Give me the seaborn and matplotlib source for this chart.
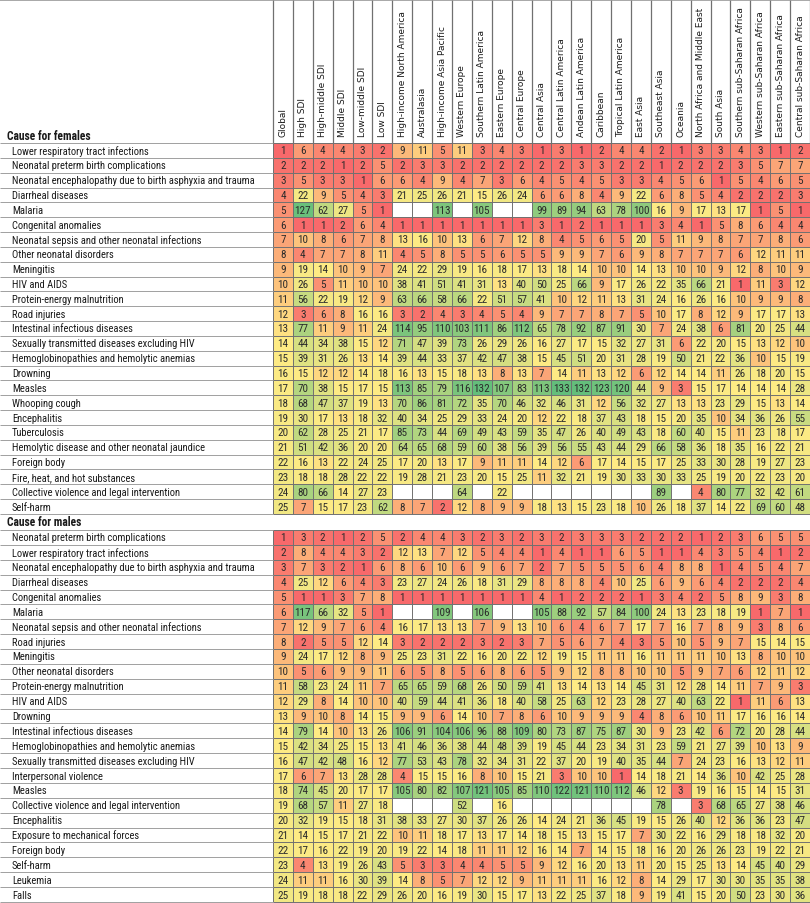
import os
import numpy as np
import pandas as pd
import matplotlib
matplotlib.use("Agg")
import matplotlib.pyplot as plt
import seaborn as sns
from matplotlib import font_manager as fm
from matplotlib.colors import LinearSegmentedColormap, TwoSlopeNorm
from matplotlib.transforms import blended_transform_factory
from matplotlib.lines import Line2D

# ==========================
# data
# ==========================
NA = np.nan

regions = [
    "Global", "High SDI", "High-middle SDI", "Middle SDI", "Low-middle SDI", "Low SDI",
    "High-income North America", "Australasia", "High-income Asia Pacific", "Western Europe",
    "Southern Latin America", "Eastern Europe", "Central Europe", "Central Asia",
    "Central Latin America", "Andean Latin America", "Caribbean", "Tropical Latin America",
    "East Asia", "Southeast Asia", "Oceania", "North Africa and Middle East", "South Asia",
    "Southern sub-Saharan Africa", "Western sub-Saharan Africa", "Eastern sub-Saharan Africa",
    "Central sub-Saharan Africa",
]

female_causes = [
    "Lower respiratory tract infections",
    "Neonatal preterm birth complications",
    "Neonatal encephalopathy due to birth asphyxia and trauma",
    "Diarrheal diseases",
    "Malaria",
    "Congenital anomalies",
    "Neonatal sepsis and other neonatal infections",
    "Other neonatal disorders",
    "Meningitis",
    "HIV and AIDS",
    "Protein-energy malnutrition",
    "Road injuries",
    "Intestinal infectious diseases",
    "Sexually transmitted diseases excluding HIV",
    "Hemoglobinopathies and hemolytic anemias",
    "Drowning",
    "Measles",
    "Whooping cough",
    "Encephalitis",
    "Tuberculosis",
    "Hemolytic disease and other neonatal jaundice",
    "Foreign body",
    "Fire, heat, and hot substances",
    "Collective violence and legal intervention",
    "Self-harm",
]

female_ranks = [
    [1, 6, 4, 4, 3, 2, 9, 11, 5, 11, 3, 4, 3, 1, 3, 1, 2, 4, 4, 2, 1, 3, 3, 4, 3, 1, 2],
    [2, 2, 2, 1, 2, 5, 2, 3, 3, 2, 2, 2, 2, 2, 2, 3, 3, 2, 2, 1, 2, 2, 2, 3, 5, 7, 7],
    [3, 5, 3, 3, 1, 6, 6, 4, 9, 4, 7, 3, 6, 4, 5, 4, 5, 3, 3, 4, 5, 6, 1, 5, 4, 6, 5],
    [4, 22, 9, 5, 4, 3, 21, 25, 26, 21, 15, 26, 24, 6, 6, 8, 4, 9, 22, 6, 8, 5, 4, 2, 2, 2, 3],
    [5, 127, 62, 27, 5, 1, NA, NA, 113, NA, 105, NA, NA, 99, 89, 94, 63, 78, 100, 16, 9, 17, 13, 17, 1, 5, 1],
    [6, 1, 1, 2, 6, 4, 1, 1, 1, 1, 1, 1, 1, 3, 1, 2, 1, 1, 1, 3, 4, 1, 5, 8, 6, 4, 4],
    [7, 10, 8, 6, 7, 8, 13, 16, 10, 13, 6, 7, 12, 8, 4, 5, 6, 5, 20, 5, 11, 9, 8, 7, 7, 8, 6],
    [8, 4, 7, 7, 8, 11, 4, 5, 8, 5, 5, 6, 5, 5, 9, 9, 7, 6, 9, 8, 7, 7, 7, 6, 12, 11, 11],
    [9, 19, 14, 10, 9, 7, 24, 22, 29, 19, 16, 18, 17, 13, 18, 14, 10, 10, 14, 13, 10, 10, 9, 12, 8, 10, 9],
    [10, 26, 5, 11, 10, 10, 38, 41, 51, 41, 31, 13, 40, 50, 25, 66, 9, 17, 26, 22, 35, 66, 21, 1, 11, 3, 12],
    [11, 56, 22, 19, 12, 9, 63, 66, 58, 66, 22, 51, 57, 41, 10, 12, 11, 13, 31, 24, 16, 26, 16, 10, 9, 9, 8],
    [12, 3, 6, 8, 16, 16, 3, 2, 4, 3, 4, 5, 4, 9, 7, 7, 8, 7, 5, 10, 17, 8, 12, 9, 17, 17, 13],
    [13, 77, 11, 9, 11, 24, 114, 95, 110, 103, 111, 86, 112, 65, 78, 92, 87, 91, 30, 7, 24, 38, 6, 81, 20, 25, 44],
    [14, 44, 34, 38, 15, 12, 71, 47, 39, 73, 26, 29, 26, 16, 27, 17, 15, 32, 27, 31, 6, 22, 20, 15, 13, 12, 10],
    [15, 39, 31, 26, 13, 14, 39, 44, 33, 37, 42, 47, 38, 15, 45, 51, 20, 31, 28, 19, 50, 21, 22, 36, 10, 15, 19],
    [16, 15, 12, 12, 14, 18, 16, 13, 15, 18, 13, 8, 13, 7, 14, 11, 13, 12, 6, 12, 14, 14, 11, 26, 18, 20, 15],
    [17, 70, 38, 15, 17, 15, 113, 85, 79, 116, 132, 107, 83, 113, 133, 132, 123, 120, 44, 9, 3, 15, 17, 14, 14, 14, 28],
    [18, 68, 47, 37, 19, 13, 70, 86, 81, 72, 35, 70, 46, 32, 46, 31, 12, 56, 32, 27, 13, 13, 23, 29, 15, 13, 14],
    [19, 30, 17, 13, 18, 32, 40, 34, 25, 29, 33, 24, 20, 12, 22, 18, 37, 43, 18, 15, 20, 35, 10, 34, 36, 26, 55],
    [20, 62, 28, 25, 21, 17, 85, 73, 44, 69, 49, 43, 59, 35, 47, 26, 40, 49, 43, 18, 60, 40, 15, 11, 23, 18, 17],
    [21, 51, 42, 36, 20, 20, 64, 65, 68, 59, 60, 38, 56, 39, 56, 55, 43, 44, 29, 66, 58, 36, 18, 35, 16, 22, 21],
    [22, 16, 13, 22, 24, 25, 17, 20, 13, 17, 9, 11, 11, 14, 12, 6, 17, 14, 15, 17, 25, 33, 30, 28, 19, 27, 23],
    [23, 18, 18, 28, 22, 22, 19, 28, 21, 23, 20, 15, 25, 11, 32, 21, 19, 30, 33, 30, 33, 25, 19, 20, 22, 23, 20],
    [24, 80, 66, 14, 27, 23, NA, NA, NA, 64, NA, 22, NA, NA, NA, NA, NA, NA, NA, 89, NA, 4, 80, 77, 32, 42, 61],
    [25, 7, 15, 17, 23, 62, 8, 7, 2, 12, 8, 9, 9, 18, 13, 15, 23, 18, 10, 26, 18, 37, 14, 22, 69, 60, 48],
]

male_causes = [
    "Neonatal preterm birth complications",
    "Lower respiratory tract infections",
    "Neonatal encephalopathy due to birth asphyxia and trauma",
    "Diarrheal diseases",
    "Congenital anomalies",
    "Malaria",
    "Neonatal sepsis and other neonatal infections",
    "Road injuries",
    "Meningitis",
    "Other neonatal disorders",
    "Protein-energy malnutrition",
    "HIV and AIDS",
    "Drowning",
    "Intestinal infectious diseases",
    "Hemoglobinopathies and hemolytic anemias",
    "Sexually transmitted diseases excluding HIV",
    "Interpersonal violence",
    "Measles",
    "Collective violence and legal intervention",
    "Encephalitis",
    "Exposure to mechanical forces",
    "Foreign body",
    "Self-harm",
    "Leukemia",
    "Falls",
]

male_ranks = [
    [1, 3, 2, 1, 2, 5, 2, 4, 4, 3, 2, 3, 2, 3, 2, 3, 3, 3, 2, 2, 2, 1, 2, 3, 6, 5, 5],
    [2, 8, 4, 4, 3, 2, 12, 13, 7, 12, 5, 4, 4, 1, 4, 1, 1, 6, 5, 1, 1, 4, 3, 5, 4, 1, 2],
    [3, 7, 3, 2, 1, 6, 8, 6, 10, 6, 9, 6, 7, 2, 7, 5, 5, 5, 6, 4, 8, 8, 1, 4, 5, 4, 7],
    [4, 25, 12, 6, 4, 3, 23, 27, 24, 26, 18, 31, 29, 8, 8, 8, 4, 10, 25, 6, 9, 6, 4, 2, 2, 2, 4],
    [5, 1, 1, 3, 7, 8, 1, 1, 1, 1, 1, 1, 1, 4, 1, 2, 2, 2, 1, 3, 4, 2, 5, 8, 9, 3, 8],
    [6, 117, 66, 32, 5, 1, NA, NA, 109, NA, 106, NA, NA, 105, 88, 92, 57, 84, 100, 24, 13, 23, 18, 19, 1, 7, 1],
    [7, 12, 9, 7, 6, 4, 16, 17, 13, 13, 7, 9, 13, 10, 6, 4, 6, 7, 17, 7, 16, 7, 8, 9, 3, 8, 6],
    [8, 2, 5, 5, 12, 14, 3, 2, 2, 2, 3, 2, 3, 7, 5, 6, 7, 4, 3, 5, 10, 5, 9, 7, 15, 14, 15],
    [9, 24, 17, 12, 8, 9, 25, 23, 31, 22, 16, 20, 22, 12, 19, 15, 11, 11, 16, 11, 11, 11, 10, 13, 8, 10, 10],
    [10, 5, 6, 9, 9, 11, 6, 5, 8, 5, 6, 8, 6, 5, 9, 12, 8, 8, 10, 10, 5, 9, 7, 6, 12, 11, 12],
    [11, 58, 23, 24, 11, 7, 65, 65, 59, 68, 26, 50, 59, 41, 13, 14, 13, 14, 45, 31, 12, 28, 14, 11, 7, 9, 3],
    [12, 29, 8, 14, 10, 10, 40, 59, 44, 41, 36, 18, 40, 58, 25, 63, 12, 23, 28, 27, 40, 63, 22, 1, 11, 6, 13],
    [13, 9, 10, 8, 14, 15, 9, 9, 6, 14, 10, 7, 8, 6, 10, 9, 9, 9, 4, 8, 6, 10, 11, 17, 16, 16, 14],
    [14, 79, 14, 10, 13, 26, 106, 91, 104, 106, 96, 88, 109, 80, 73, 87, 75, 87, 30, 9, 23, 42, 6, 72, 20, 28, 44],
    [15, 42, 34, 25, 15, 13, 41, 46, 36, 38, 44, 48, 39, 19, 45, 44, 23, 34, 31, 23, 59, 21, 27, 39, 10, 13, 9],
    [16, 47, 42, 48, 16, 12, 77, 53, 43, 78, 32, 34, 31, 22, 37, 20, 19, 40, 35, 44, 7, 24, 23, 16, 13, 12, 11],
    [17, 6, 7, 13, 28, 28, 4, 15, 15, 16, 8, 10, 15, 21, 3, 10, 10, 1, 14, 18, 21, 14, 36, 10, 42, 25, 28],
    [18, 74, 45, 20, 17, 17, 105, 80, 82, 107, 121, 105, 85, 110, 122, 121, 110, 112, 46, 12, 3, 19, 16, 15, 14, 15, 31],
    [19, 68, 57, 11, 27, 18, NA, NA, NA, 52, NA, 16, NA, NA, NA, NA, NA, NA, NA, 78, NA, 3, 68, 65, 27, 38, 46],
    [20, 32, 19, 15, 18, 31, 38, 33, 27, 30, 37, 26, 26, 14, 24, 21, 36, 45, 19, 15, 26, 40, 12, 36, 36, 23, 47],
    [21, 14, 15, 17, 21, 22, 10, 11, 18, 17, 13, 17, 14, 18, 15, 13, 15, 17, 7, 30, 22, 16, 29, 18, 18, 32, 20],
    [22, 17, 16, 22, 19, 20, 19, 22, 14, 18, 11, 11, 12, 16, 14, 7, 14, 15, 18, 16, 20, 26, 26, 23, 19, 22, 21],
    [23, 4, 13, 19, 26, 43, 5, 3, 3, 4, 4, 5, 5, 9, 12, 16, 20, 13, 11, 20, 15, 25, 13, 14, 45, 40, 29],
    [24, 11, 11, 16, 30, 39, 14, 8, 5, 7, 12, 12, 9, 11, 11, 11, 16, 12, 8, 14, 29, 17, 30, 30, 35, 35, 38],
    [25, 19, 18, 18, 22, 29, 26, 20, 16, 19, 30, 15, 17, 13, 22, 25, 37, 18, 9, 19, 41, 15, 20, 50, 23, 30, 36],
]

female_df = pd.DataFrame(female_ranks, index=female_causes, columns=regions)
male_df = pd.DataFrame(male_ranks, index=male_causes, columns=regions)

# ==========================
# fonts: pick the narrowest sans face that is around
# ==========================
plt.rcParams["font.family"] = ["DejaVu Sans"]

NARROW_STRETCH = ("condensed", "semi-condensed", "extra-condensed", "ultra-condensed", "narrow")
FAMILY_PREF = ["Liberation Sans Narrow", "Roboto Condensed", "Open Sans Condensed",
               "Noto Sans", "Open Sans", "DejaVu Sans"]


def weight_num(w):
    if isinstance(w, (int, float)):
        return w
    return {"normal": 400, "regular": 400, "book": 400, "medium": 500, "semibold": 600,
            "demibold": 600, "bold": 700, "heavy": 800, "black": 900, "light": 300}.get(str(w).lower(), 400)


def pick_font(bold=False):
    best = None
    for f in fm.fontManager.ttflist:
        base = os.path.basename(f.fname)
        narrow = (str(f.stretch).lower() in NARROW_STRETCH or "Narrow" in f.name
                  or "Condensed" in f.name or "Condensed" in base or "Narrow" in base)
        if not narrow or f.style != "normal":
            continue
        w = weight_num(f.weight)
        if bold and not (550 <= w <= 750):
            continue
        if not bold and w != 400:
            continue
        fam_rank = len(FAMILY_PREF)
        for i, fam in enumerate(FAMILY_PREF):
            if f.name.startswith(fam):
                fam_rank = i
                break
        key = (fam_rank, abs(w - (650 if bold else 400)))
        if best is None or key < best[0]:
            best = (key, f.fname)
    if best is not None:
        return fm.FontProperties(fname=best[1])
    for f in fm.fontManager.ttflist:
        base = os.path.basename(f.fname)
        if base == ("LiberationSans-Bold.ttf" if bold else "LiberationSans-Regular.ttf"):
            return fm.FontProperties(fname=f.fname)
    return fm.FontProperties(family="DejaVu Sans", weight="bold" if bold else "normal")


narrow = pick_font()
narrow_bold = pick_font(bold=True)
header_font = fm.FontProperties(family="DejaVu Sans")

W, H = 810, 904
fig = plt.figure(figsize=(W / 100, H / 100), dpi=100)
renderer = fig.canvas.get_renderer()


def fit_size(fp, sample, target_px, lo, hi):
    # font size (pt) that makes `sample` about target_px wide
    t = fig.text(0, 0, sample, fontproperties=fp)
    t.set_fontsize(10)
    w = t.get_window_extent(renderer).width
    t.remove()
    return float(np.clip(10 * target_px / w, lo, hi))


label_size = fit_size(narrow, "Neonatal encephalopathy due to birth asphyxia and trauma", 250, 5.8, 7.6)
num_size = fit_size(narrow, "133", 17, 6.2, 8.0)
head_size = fit_size(narrow_bold, "Cause for females", 84, 6.4, 8.6)
col_size = fit_size(header_font, "Western sub-Saharan Africa", 126, 5.6, 7.0)

# excel style 3 colour scale: min red, 50th percentile yellow, max green
all_vals = np.concatenate([female_df.values.ravel(), male_df.values.ravel()])
excel_cmap = LinearSegmentedColormap.from_list("excel", ["#F8696B", "#FFEB84", "#63BE7B"])
norm = TwoSlopeNorm(vmin=np.nanmin(all_vals), vcenter=np.nanpercentile(all_vals, 50),
                    vmax=np.nanmax(all_vals))


def box(x0, y0, x1, y1):
    return [x0 / W, 1 - y1 / H, (x1 - x0) / W, (y1 - y0) / H]


LEFT = 273
ax_f = fig.add_axes(box(LEFT, 144, 810, 515))
ax_m = fig.add_axes(box(LEFT, 531, 810, 903))

cell_line = "#707070"
label_line = "#a0a0a0"

for ax, df in [(ax_f, female_df), (ax_m, male_df)]:
    sns.heatmap(df, ax=ax, cmap=excel_cmap, norm=norm, cbar=False,
                annot=True, fmt=".0f",
                annot_kws={"fontproperties": narrow, "color": "#2b2b2b"},
                linewidths=0)
    for t in ax.texts:
        t.set_fontsize(num_size)
    nrow, ncol = df.shape
    ax.hlines(np.arange(nrow + 1), 0, ncol, colors=cell_line, lw=0.7, clip_on=False)
    ax.vlines(np.arange(ncol + 1), 0, nrow, colors=cell_line, lw=0.7, clip_on=False)

    # row labels on the left, left aligned
    ax.set_yticks(np.arange(nrow) + 0.5)
    ax.set_yticklabels(df.index, rotation=0, color="#1a1a1a")
    for lbl in ax.get_yticklabels():
        lbl.set_fontproperties(narrow)
        lbl.set_fontsize(label_size)
        lbl.set_horizontalalignment("left")
    ax.tick_params(axis="y", length=0, pad=(LEFT - 12) * 0.72)

    # row separators across the label column
    tr = blended_transform_factory(fig.transFigure, ax.transData)
    ax.hlines(np.arange(nrow + 1), 0, LEFT / W, transform=tr, colors=label_line,
              lw=0.7, clip_on=False)

    ax.set_xlabel("")
    ax.set_ylabel("")

# column headers on top of the female block
ax_f.xaxis.tick_top()
ax_f.set_xticks(np.arange(len(regions)) + 0.5)
ax_f.set_xticklabels(regions, rotation=90, color="#1a1a1a")
for lbl in ax_f.get_xticklabels():
    lbl.set_fontproperties(header_font)
    lbl.set_fontsize(col_size)
ax_f.tick_params(axis="x", length=0, pad=5)
ax_m.set_xticks([])

# header cell borders
trh = blended_transform_factory(ax_f.transData, fig.transFigure)
ax_f.vlines(np.arange(len(regions) + 1), 1 - 144 / H, 1, transform=trh,
            colors=cell_line, lw=0.9, clip_on=False)
fig.add_artist(Line2D([0, 1], [1 - 1 / H, 1 - 1 / H], color="#9a9a9a", lw=1.2))

for ypix, txt in [(137, "Cause for females"), (523, "Cause for males")]:
    t = fig.text(7 / W, 1 - ypix / H, txt, va="center", ha="left", color="#1a1a1a",
                 fontproperties=narrow_bold)
    t.set_fontsize(head_size)

fig.savefig("out.png", dpi=100)
